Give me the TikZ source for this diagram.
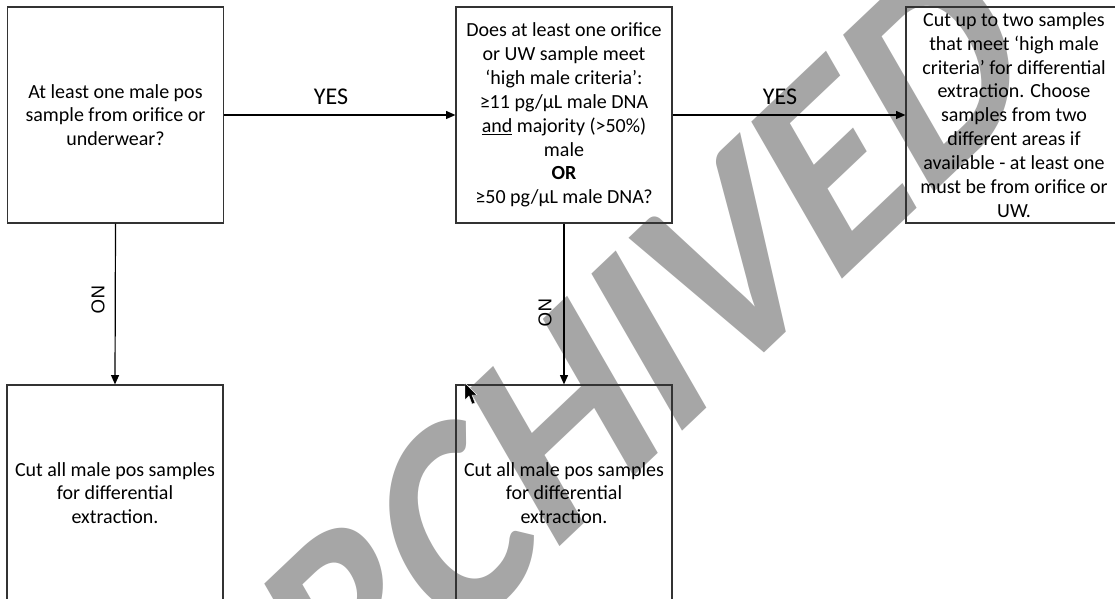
\documentclass[tikz,border=0pt]{standalone}
\usepackage{fontspec}
\setmainfont{Carlito}
\newfontfamily\arialf{Liberation Sans}
\usetikzlibrary{arrows.meta}
\definecolor{wmgray}{RGB}{166,166,166}
\begin{document}
\begin{tikzpicture}[x=0.75pt,y=-0.75pt,
  box/.style={draw=black!80, line width=0.9pt, rectangle, inner sep=0pt,
    minimum width=162pt, minimum height=162pt, align=center,
    font=\fontsize{15}{17.5}\selectfont},
  widebox/.style={box, font=\fontsize{15}{17.9}\selectfont},
  conn/.style={draw=black, line width=0.9pt, -{Triangle[length=7pt,width=6pt]}},
  yeslbl/.style={font=\fontsize{18}{20}\selectfont, inner sep=0pt},
  nolbl/.style={font=\arialf\fontsize{14}{15}\selectfont, inner sep=0pt, rotate=-90},
  wm/.style={text=wmgray, font=\fontsize{226}{226}\selectfont\bfseries, inner sep=0pt}]
\useasboundingbox (0,0) rectangle (1115,599);
\fill[white] (0,0) rectangle (1115,599);
% watermark (rotated, then squeezed horizontally as in the reference)
\begin{scope}[shift={(591,396)}]
\node[wm, transform shape, cm={0.627,0.5948,-0.4639,0.8039,(0,0)}] (wmark) at (0,0) {ARCHIVED};
\end{scope}
% boxes
\node[box] (b1) at (115.5,115) {At least one male pos\\sample from orifice or\\underwear?};
\node[widebox] (b2) at (564,115) {Does at least one orifice\\or UW sample meet\\‘high male criteria’:\\≥11 pg/µL male DNA\\\underline{and} majority (>50\%)\\male\\\textbf{OR}\\≥50 pg/µL male DNA?};
\node[widebox] (b3) at (1014,115) {Cut up to two samples\\that meet ‘high male\\criteria’ for differential\\extraction. Choose\\samples from two\\different areas if\\available - at least one\\must be from orifice or\\UW.};
\node[box] (b4) at (115,493) {Cut all male pos samples\\for differential\\extraction.};
\node[box] (b5) at (564,493) {Cut all male pos samples\\for differential\\extraction.};
% connectors
\draw[conn] (b1.east) -- (b2.west);
\draw[conn] (b2.east) -- (b3.west);
\draw[conn] (b1.south) -- (b4.north);
\draw[conn] (b2.south) -- (b5.north);
% labels
\node[yeslbl] (y1) at (331,97) {YES};
\node[yeslbl] (y2) at (780,97) {YES};
\node[nolbl] (n1) at (98,300) {NO};
\node[nolbl] (n2) at (545,313) {NO};
% cursor
\fill[black, draw=white, line width=0.3pt] (465,383) -- (465,400) -- (469,396) -- (472,404) -- (475,403) -- (472,395) -- (477,395) -- cycle;
\end{tikzpicture}
\end{document}
